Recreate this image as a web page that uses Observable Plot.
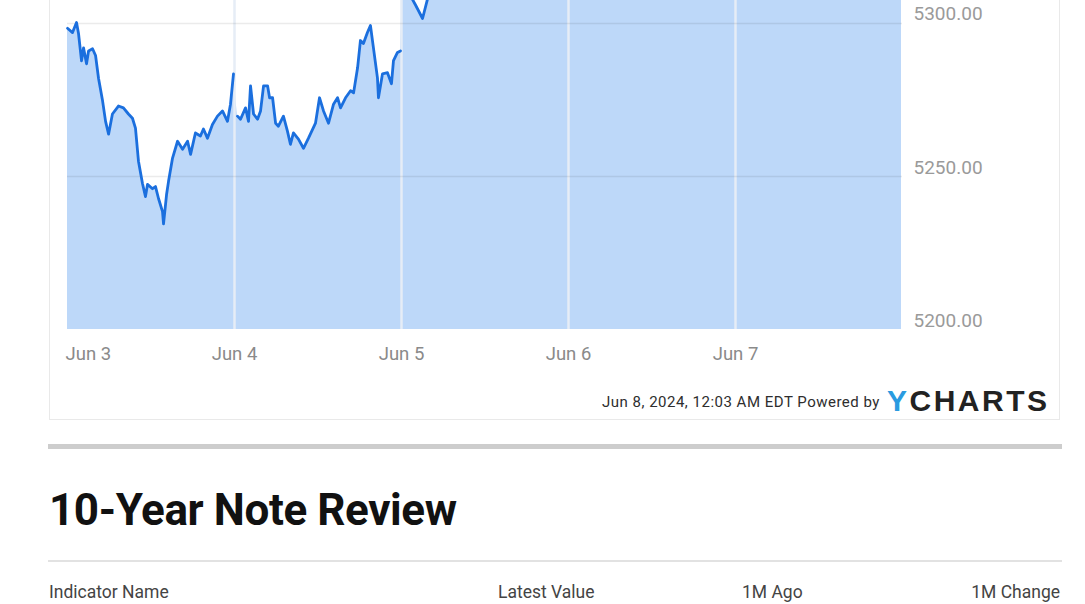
<!DOCTYPE html>
<html>
<head>
<meta charset="utf-8">
<script src="https://cdn.jsdelivr.net/npm/d3@7"></script>
<script src="https://cdn.jsdelivr.net/npm/@observablehq/plot@0.6"></script>
<style>
  html, body { margin: 0; padding: 0; background: #fff; }
  #page { position: relative; width: 1085px; height: 604px; overflow: hidden; background: #fff;
          font-family: Roboto, "Liberation Sans", Arial, sans-serif; }
  #card { position: absolute; left: 49px; top: -20px; width: 1011px; height: 440px;
          border: 1px solid #e9e9e9; background: #fff; box-sizing: border-box; }
  #chart { position: absolute; left: 0; top: -232px; }
  #stamp { position: absolute; left: 602px; top: 393px; font-size: 15px; letter-spacing: 0.5px; color: #2e2e2e; white-space: nowrap; }
  #logo { position: absolute; left: 887px; top: 384px; font-family: "Liberation Sans", Arial, sans-serif;
          font-weight: bold; font-size: 30px; letter-spacing: 2.5px; color: #222; white-space: nowrap; line-height: 34px; }
  #logo .y { color: #2a9be0; }
  #rule1 { position: absolute; left: 48px; top: 444px; width: 1014px; height: 5px; background: #cdcdcd; }
  #title { position: absolute; left: 49px; top: 484px; font-size: 44px; font-weight: bold; color: #111;
           white-space: nowrap; letter-spacing: -0.4px; }
  #rule2 { position: absolute; left: 48px; top: 560px; width: 1014px; height: 2px; background: #e2e2e2; }
  .th { position: absolute; top: 582px; font-size: 17.5px; line-height: 20px; color: #444; white-space: nowrap; }
</style>
</head>
<body>
<div id="page">
  <div id="card"></div>
  <div id="chart"></div>
  <div id="stamp">Jun 8, 2024, 12:03 AM EDT Powered by</div>
  <div id="logo"><span class="y">Y</span>CHARTS</div>
  <div id="rule1"></div>
  <div id="title">10-Year Note Review</div>
  <div id="rule2"></div>
  <div class="th" style="left:49px">Indicator Name</div>
  <div class="th" style="left:498px">Latest Value</div>
  <div class="th" style="left:742px">1M Ago</div>
  <div class="th" style="right:25px">1M Change</div>
</div>
<script>
// Day labels (trading sessions, one unit of x per session)
const dayLabels = ["Jun 3", "Jun 4", "Jun 5", "Jun 6", "Jun 7"];
const yTicks = [5200, 5250, 5300];

// position within sessions (day index + fraction of session) and S&P 500 level
const jun3Pos = [0.000,0.030,0.054,0.066,0.084,0.096,0.114,0.126,0.150,0.168,0.186,0.210,0.228,0.246,0.269,0.305,0.335,0.365,0.389,0.407,0.425,0.449,0.467,0.479,0.509,0.527,0.545,0.569,0.575,0.593,0.605,0.629,0.659,0.689,0.719,0.737,0.766,0.796,0.814,0.838,0.868,0.898,0.928,0.958,0.976,0.994];
const jun3Val = [5298.4,5297.0,5300.3,5296.7,5287.8,5292.0,5286.8,5291.0,5291.7,5289.5,5282.0,5274.7,5268.0,5263.8,5270.4,5273.0,5272.4,5270.4,5269.0,5265.8,5255.0,5247.7,5243.4,5247.4,5246.0,5246.7,5242.8,5238.5,5234.5,5244.0,5248.4,5256.0,5261.5,5258.9,5261.5,5257.2,5264.2,5263.2,5265.5,5262.5,5267.0,5269.7,5271.4,5268.0,5273.6,5283.5];

const jun4Pos = [1.018,1.036,1.066,1.084,1.096,1.114,1.138,1.156,1.174,1.198,1.210,1.228,1.246,1.263,1.293,1.317,1.335,1.353,1.383,1.413,1.443,1.485,1.509,1.533,1.563,1.593,1.617,1.635,1.665,1.695,1.713,1.737,1.754,1.772,1.796,1.814,1.832,1.856,1.862,1.886,1.916,1.940,1.952,1.976,1.994];
const jun4Val = [5269.7,5268.7,5272.4,5268.0,5279.6,5270.4,5268.7,5271.4,5279.6,5279.6,5275.7,5275.7,5267.4,5266.4,5269.7,5264.8,5260.5,5264.2,5262.2,5259.2,5262.5,5267.4,5275.7,5271.4,5267.4,5273.6,5275.7,5272.4,5275.7,5278.0,5277.3,5285.5,5294.4,5293.4,5297.0,5299.3,5292.0,5282.2,5275.7,5283.5,5283.9,5280.3,5287.8,5290.5,5291.0];

const jun5Pos = [2.008,2.054,2.084,2.126,2.156,2.200,2.300,2.400,2.500,2.600,2.700,2.800,2.900,2.994];
const jun5Val = [5318.0,5309.0,5306.0,5301.6,5308.0,5316.0,5325.0,5332.0,5338.0,5342.0,5346.0,5350.0,5352.0,5354.0];

const jun6Pos = [3.010,3.100,3.200,3.300,3.400,3.500,3.600,3.700,3.800,3.900,3.994];
const jun6Val = [5357.0,5361.0,5355.0,5349.0,5346.0,5343.0,5340.0,5344.0,5348.0,5351.0,5352.0];

const jun7Pos = [4.010,4.100,4.200,4.300,4.400,4.500,4.600,4.700,4.800,4.900,4.994];
const jun7Val = [5343.0,5350.0,5356.0,5360.0,5357.0,5352.0,5348.0,5345.0,5343.0,5346.0,5347.0];

const sessions = [
  [jun3Pos, jun3Val], [jun4Pos, jun4Val], [jun5Pos, jun5Val], [jun6Pos, jun6Val], [jun7Pos, jun7Val]
];
const data = sessions.flatMap(([p, v], day) => p.map((pos, i) => ({day, pos, price: v[i]})));

const chart = Plot.plot({
  width: 1085,
  height: 611,
  marginTop: 10,
  marginBottom: 50,
  marginLeft: 67,
  marginRight: 183,
  style: {fontFamily: 'Roboto, "Liberation Sans", Arial, sans-serif', fontSize: "18px", background: "transparent"},
  x: {domain: [0, 5]},
  y: {domain: [5200, 5380]},
  marks: [
    Plot.areaY(data, {x: "pos", y1: 5200, y2: "price", fill: "#bdd8f9", curve: "linear"}),
    Plot.gridX({ticks: [1, 2, 3, 4], stroke: "#e6edf6", strokeOpacity: 1, strokeWidth: 2.5}),
    Plot.gridY({ticks: [5250, 5300], stroke: "#000", strokeOpacity: 0.08, strokeWidth: 1.5}),
    Plot.lineY(data, {x: "pos", y: "price", z: "day", stroke: "#1b6fde", strokeWidth: 2.8, strokeLinejoin: "round"}),
    Plot.axisX({ticks: [0], tickFormat: d => dayLabels[d], tickSize: 0, tickPadding: 17,
                textAnchor: "start", dx: -2, fill: "#8a8a8a", fontSize: 18.5, label: null}),
    Plot.axisX({ticks: [1, 2, 3, 4], tickFormat: d => dayLabels[d], tickSize: 0, tickPadding: 17,
                fill: "#8a8a8a", fontSize: 18.5, label: null}),
    Plot.axisY({anchor: "right", ticks: yTicks, tickFormat: d => d.toFixed(2), tickSize: 0,
                tickPadding: 11, dy: -9, fill: "#9a9a9a", fontSize: 19, label: null})
  ]
});
document.getElementById("chart").appendChild(chart);
</script>
</body>
</html>
